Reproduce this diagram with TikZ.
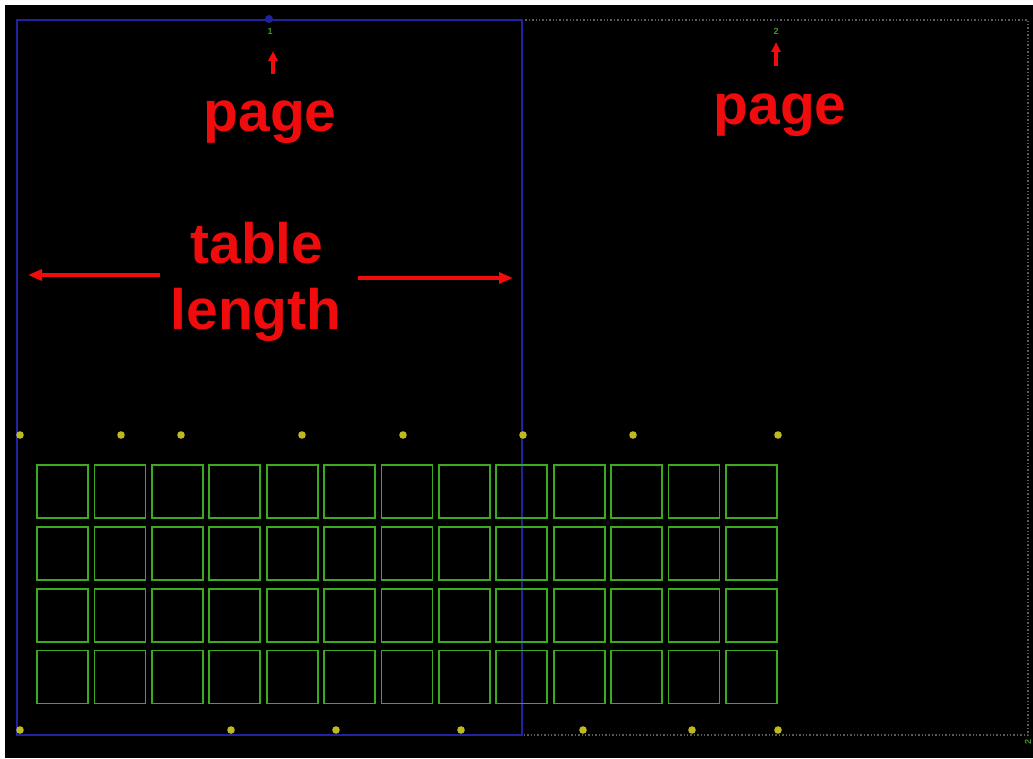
\documentclass[tikz,border=0pt]{standalone}
\usepackage{fontspec}
\setmainfont{Liberation Sans}
\usetikzlibrary{arrows.meta}
\definecolor{labred}{RGB}{240,12,12}
\definecolor{frameblue}{RGB}{34,34,160}
\definecolor{cellgreen}{RGB}{60,170,30}
\definecolor{dotyellow}{RGB}{190,185,30}
\definecolor{dotgray}{RGB}{90,90,90}
\definecolor{tinygreen}{RGB}{60,150,40}
\tikzset{
  bigtext/.style={text=labred, font=\bfseries\fontsize{57}{60}\selectfont, inner sep=0pt},
  redarrow/.style={draw=labred, line width=3.2pt, -{Triangle[length=14pt,width=11pt]}},
  smallarrow/.style={draw=labred, line width=4pt, -{Triangle[length=10pt,width=9pt]}},
  cell/.style={draw=cellgreen, line width=1.8pt, minimum width=51pt, minimum height=53pt, inner sep=0pt},
  pin/.style={fill=dotyellow},
  tiny/.style={text=tinygreen, font=\bfseries\fontsize{9}{10}\selectfont, inner sep=0pt}
}
\begin{document}
\begin{tikzpicture}[x=1pt,y=-1pt]
\useasboundingbox (0,0) rectangle (1033,758);
\fill[white] (0,0) rectangle (1033,758);
\fill[black] (5,5) rectangle (1033,758);
% second page (dotted)
\draw[dotgray, line width=1.4pt, dotted] (522,20) -- (1028,20) -- (1028,735) -- (522,735);
% first page (blue)
\draw[frameblue, line width=2pt] (17,20) rectangle (522,735);
\fill[frameblue] (269,19) circle (4);
% tiny page numbers
\node[tiny] (n1) at (270,31) {1};
\node[tiny] (n2) at (776,31) {2};
\node[tiny, rotate=90] (n3) at (1028,742) {2};
% labels
\node[bigtext] (page1) at (270,122) {page};
\node[bigtext] (page2) at (780,115) {page};
\node[bigtext, anchor=base] (table) at (257,263) {table};
\node[bigtext, anchor=base] (length) at (256,329) {length};
% small arrows
\coordinate (a1s) at (273,74);
\coordinate (a1e) at (273,51);
\coordinate (a2s) at (776,66);
\coordinate (a2e) at (776,42);
\draw[smallarrow] (a1s) -- (a1e);
\draw[smallarrow] (a2s) -- (a2e);
% table length arrows
\coordinate (ls) at (160,275);
\coordinate (la) at (28,275);
\coordinate (rs) at (358,278);
\coordinate (ra) at (513,278);
\draw[redarrow] (ls) -- (la);
\draw[redarrow] (rs) -- (ra);
% yellow pins
\foreach \x [count=\i] in {20,121,181,302,403,523,633,778}
  \fill[pin] (\x,435) circle (3.8) coordinate (pt\i);
\foreach \x [count=\i] in {20,231,336,461,583,692,778}
  \fill[pin] (\x,730) circle (3.8) coordinate (pb\i);
% grid of cells
\foreach \r in {0,...,3}
  \foreach \c in {0,...,12}
    \node[cell] (c-\r-\c) at ({62.5+57.4*\c},{491.5+61.8*\r}) {};
\end{tikzpicture}
\end{document}
